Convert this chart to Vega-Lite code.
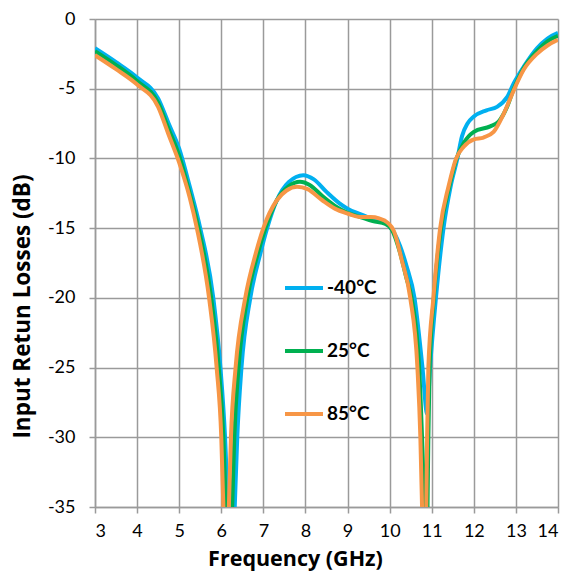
{
  "$schema": "https://vega.github.io/schema/vega-lite/v6.json",
  "width": 463,
  "height": 488,
  "autosize": {"type": "none"},
  "padding": {"left": 95, "top": 19, "right": 10, "bottom": 64},
  "background": "white",
  "config": {
    "view": {"stroke": null},
    "font": "Lato",
    "axis": {
      "gridColor": "#9a9a9a",
      "gridWidth": 1.5,
      "domainColor": "#9a9a9a",
      "domainWidth": 1.5,
      "tickColor": "#9a9a9a",
      "tickWidth": 1.5,
      "tickSize": 6,
      "labelFont": "Lato",
      "labelFontSize": 18,
      "labelColor": "#000000",
      "titleFont": "Open Sans",
      "titleFontWeight": "bold",
      "titleColor": "#000000"
    }
  },
  "data": {
    "values": [
      {"f": 3.0, "db": -2.1, "t": "-40°C"},
      {"f": 3.5, "db": -3.1, "t": "-40°C"},
      {"f": 4.0, "db": -4.2, "t": "-40°C"},
      {"f": 4.5, "db": -5.7, "t": "-40°C"},
      {"f": 4.75, "db": -7.5, "t": "-40°C"},
      {"f": 5.0, "db": -9.3, "t": "-40°C"},
      {"f": 5.25, "db": -12.0, "t": "-40°C"},
      {"f": 5.5, "db": -15.0, "t": "-40°C"},
      {"f": 5.81, "db": -20.0, "t": "-40°C"},
      {"f": 5.98, "db": -25.0, "t": "-40°C"},
      {"f": 6.09, "db": -30.0, "t": "-40°C"},
      {"f": 6.16, "db": -35.0, "t": "-40°C"},
      {"f": 6.24, "db": -42.0, "t": "-40°C"},
      {"f": 6.32, "db": -35.0, "t": "-40°C"},
      {"f": 6.38, "db": -30.0, "t": "-40°C"},
      {"f": 6.48, "db": -25.0, "t": "-40°C"},
      {"f": 6.69, "db": -20.0, "t": "-40°C"},
      {"f": 6.93, "db": -16.8, "t": "-40°C"},
      {"f": 7.09, "db": -15.0, "t": "-40°C"},
      {"f": 7.32, "db": -13.0, "t": "-40°C"},
      {"f": 7.6, "db": -11.7, "t": "-40°C"},
      {"f": 7.95, "db": -11.2, "t": "-40°C"},
      {"f": 8.2, "db": -11.5, "t": "-40°C"},
      {"f": 8.5, "db": -12.4, "t": "-40°C"},
      {"f": 8.8, "db": -13.2, "t": "-40°C"},
      {"f": 9.0, "db": -13.6, "t": "-40°C"},
      {"f": 9.3, "db": -14.0, "t": "-40°C"},
      {"f": 9.6, "db": -14.35, "t": "-40°C"},
      {"f": 9.9, "db": -14.6, "t": "-40°C"},
      {"f": 10.1, "db": -15.3, "t": "-40°C"},
      {"f": 10.25, "db": -16.3, "t": "-40°C"},
      {"f": 10.4, "db": -17.7, "t": "-40°C"},
      {"f": 10.59, "db": -20.0, "t": "-40°C"},
      {"f": 10.78, "db": -25.0, "t": "-40°C"},
      {"f": 10.89, "db": -28.3, "t": "-40°C"},
      {"f": 10.96, "db": -25.0, "t": "-40°C"},
      {"f": 11.1, "db": -20.0, "t": "-40°C"},
      {"f": 11.28, "db": -15.0, "t": "-40°C"},
      {"f": 11.45, "db": -12.0, "t": "-40°C"},
      {"f": 11.61, "db": -10.0, "t": "-40°C"},
      {"f": 11.72, "db": -8.4, "t": "-40°C"},
      {"f": 11.85, "db": -7.5, "t": "-40°C"},
      {"f": 12.0, "db": -7.0, "t": "-40°C"},
      {"f": 12.3, "db": -6.55, "t": "-40°C"},
      {"f": 12.55, "db": -6.3, "t": "-40°C"},
      {"f": 12.79, "db": -5.6, "t": "-40°C"},
      {"f": 12.95, "db": -4.6, "t": "-40°C"},
      {"f": 13.19, "db": -3.4, "t": "-40°C"},
      {"f": 13.5, "db": -2.1, "t": "-40°C"},
      {"f": 13.75, "db": -1.4, "t": "-40°C"},
      {"f": 14.0, "db": -1.0, "t": "-40°C"},

      {"f": 3.0, "db": -2.3, "t": "25°C"},
      {"f": 3.5, "db": -3.3, "t": "25°C"},
      {"f": 4.0, "db": -4.45, "t": "25°C"},
      {"f": 4.5, "db": -6.0, "t": "25°C"},
      {"f": 4.75, "db": -7.9, "t": "25°C"},
      {"f": 5.0, "db": -9.8, "t": "25°C"},
      {"f": 5.25, "db": -12.5, "t": "25°C"},
      {"f": 5.46, "db": -15.0, "t": "25°C"},
      {"f": 5.76, "db": -20.0, "t": "25°C"},
      {"f": 5.94, "db": -25.0, "t": "25°C"},
      {"f": 6.05, "db": -30.0, "t": "25°C"},
      {"f": 6.11, "db": -35.0, "t": "25°C"},
      {"f": 6.18, "db": -42.0, "t": "25°C"},
      {"f": 6.26, "db": -35.0, "t": "25°C"},
      {"f": 6.31, "db": -30.0, "t": "25°C"},
      {"f": 6.41, "db": -25.0, "t": "25°C"},
      {"f": 6.62, "db": -20.0, "t": "25°C"},
      {"f": 6.87, "db": -16.8, "t": "25°C"},
      {"f": 7.05, "db": -15.0, "t": "25°C"},
      {"f": 7.32, "db": -13.0, "t": "25°C"},
      {"f": 7.6, "db": -12.0, "t": "25°C"},
      {"f": 7.87, "db": -11.67, "t": "25°C"},
      {"f": 8.1, "db": -11.9, "t": "25°C"},
      {"f": 8.4, "db": -12.7, "t": "25°C"},
      {"f": 8.7, "db": -13.4, "t": "25°C"},
      {"f": 9.0, "db": -13.9, "t": "25°C"},
      {"f": 9.3, "db": -14.2, "t": "25°C"},
      {"f": 9.6, "db": -14.5, "t": "25°C"},
      {"f": 9.9, "db": -14.7, "t": "25°C"},
      {"f": 10.05, "db": -15.1, "t": "25°C"},
      {"f": 10.25, "db": -16.8, "t": "25°C"},
      {"f": 10.4, "db": -18.6, "t": "25°C"},
      {"f": 10.52, "db": -20.0, "t": "25°C"},
      {"f": 10.7, "db": -25.0, "t": "25°C"},
      {"f": 10.77, "db": -30.0, "t": "25°C"},
      {"f": 10.82, "db": -35.0, "t": "25°C"},
      {"f": 10.86, "db": -42.0, "t": "25°C"},
      {"f": 10.9, "db": -35.0, "t": "25°C"},
      {"f": 10.92, "db": -30.0, "t": "25°C"},
      {"f": 10.95, "db": -25.0, "t": "25°C"},
      {"f": 11.05, "db": -20.0, "t": "25°C"},
      {"f": 11.22, "db": -15.0, "t": "25°C"},
      {"f": 11.42, "db": -12.0, "t": "25°C"},
      {"f": 11.59, "db": -10.0, "t": "25°C"},
      {"f": 11.76, "db": -8.9, "t": "25°C"},
      {"f": 12.0, "db": -8.1, "t": "25°C"},
      {"f": 12.39, "db": -7.7, "t": "25°C"},
      {"f": 12.59, "db": -7.35, "t": "25°C"},
      {"f": 12.79, "db": -6.3, "t": "25°C"},
      {"f": 12.95, "db": -5.0, "t": "25°C"},
      {"f": 13.18, "db": -3.55, "t": "25°C"},
      {"f": 13.5, "db": -2.3, "t": "25°C"},
      {"f": 13.75, "db": -1.6, "t": "25°C"},
      {"f": 14.0, "db": -1.2, "t": "25°C"},

      {"f": 3.0, "db": -2.6, "t": "85°C"},
      {"f": 3.5, "db": -3.6, "t": "85°C"},
      {"f": 4.0, "db": -4.7, "t": "85°C"},
      {"f": 4.5, "db": -6.3, "t": "85°C"},
      {"f": 4.75, "db": -8.3, "t": "85°C"},
      {"f": 5.0, "db": -10.3, "t": "85°C"},
      {"f": 5.25, "db": -12.8, "t": "85°C"},
      {"f": 5.42, "db": -15.0, "t": "85°C"},
      {"f": 5.71, "db": -20.0, "t": "85°C"},
      {"f": 5.89, "db": -25.0, "t": "85°C"},
      {"f": 6.0, "db": -30.0, "t": "85°C"},
      {"f": 6.05, "db": -35.0, "t": "85°C"},
      {"f": 6.11, "db": -42.0, "t": "85°C"},
      {"f": 6.18, "db": -35.0, "t": "85°C"},
      {"f": 6.23, "db": -30.0, "t": "85°C"},
      {"f": 6.34, "db": -25.0, "t": "85°C"},
      {"f": 6.57, "db": -20.0, "t": "85°C"},
      {"f": 6.82, "db": -16.8, "t": "85°C"},
      {"f": 7.0, "db": -15.0, "t": "85°C"},
      {"f": 7.32, "db": -13.0, "t": "85°C"},
      {"f": 7.55, "db": -12.3, "t": "85°C"},
      {"f": 7.8, "db": -12.03, "t": "85°C"},
      {"f": 8.05, "db": -12.2, "t": "85°C"},
      {"f": 8.4, "db": -13.0, "t": "85°C"},
      {"f": 8.7, "db": -13.6, "t": "85°C"},
      {"f": 9.0, "db": -13.95, "t": "85°C"},
      {"f": 9.3, "db": -14.2, "t": "85°C"},
      {"f": 9.55, "db": -14.2, "t": "85°C"},
      {"f": 9.75, "db": -14.3, "t": "85°C"},
      {"f": 9.95, "db": -14.6, "t": "85°C"},
      {"f": 10.1, "db": -15.2, "t": "85°C"},
      {"f": 10.29, "db": -17.3, "t": "85°C"},
      {"f": 10.49, "db": -20.0, "t": "85°C"},
      {"f": 10.66, "db": -25.0, "t": "85°C"},
      {"f": 10.73, "db": -30.0, "t": "85°C"},
      {"f": 10.77, "db": -35.0, "t": "85°C"},
      {"f": 10.82, "db": -42.0, "t": "85°C"},
      {"f": 10.87, "db": -35.0, "t": "85°C"},
      {"f": 10.89, "db": -30.0, "t": "85°C"},
      {"f": 10.92, "db": -25.0, "t": "85°C"},
      {"f": 11.04, "db": -20.0, "t": "85°C"},
      {"f": 11.2, "db": -15.0, "t": "85°C"},
      {"f": 11.4, "db": -12.0, "t": "85°C"},
      {"f": 11.58, "db": -10.0, "t": "85°C"},
      {"f": 11.76, "db": -9.16, "t": "85°C"},
      {"f": 12.0, "db": -8.63, "t": "85°C"},
      {"f": 12.23, "db": -8.5, "t": "85°C"},
      {"f": 12.47, "db": -8.1, "t": "85°C"},
      {"f": 12.71, "db": -6.8, "t": "85°C"},
      {"f": 12.95, "db": -5.1, "t": "85°C"},
      {"f": 13.18, "db": -3.66, "t": "85°C"},
      {"f": 13.5, "db": -2.5, "t": "85°C"},
      {"f": 13.75, "db": -1.9, "t": "85°C"},
      {"f": 14.0, "db": -1.5, "t": "85°C"}
    ]
  },
  "mark": {"type": "line", "interpolate": "monotone", "strokeWidth": 4, "clip": true},
  "encoding": {
    "x": {
      "field": "f",
      "type": "quantitative",
      "scale": {"domain": [3, 14], "nice": false, "zero": false},
      "axis": {"title": "Frequency (GHz)", "values": [3,4,5,6,7,8,9,10,11,12,13,14], "labelPadding": 9, "titleFontSize": 21.5, "titleX": 200, "titleY": 58, "titleAlign": "center", "titleBaseline": "alphabetic"}
    },
    "y": {
      "field": "db",
      "type": "quantitative",
      "scale": {"domain": [-35, 0], "nice": false, "zero": false},
      "axis": {"title": "Input Retun Losses (dB)", "values": [0,-5,-10,-15,-20,-25,-30,-35], "labelExpr": "'' + datum.value", "labelPadding": 14, "titleFontSize": 22.5, "titleX": -73, "titleY": 287, "titleAlign": "center", "titleBaseline": "middle", "titleAngle": -90}
    },
    "color": {
      "field": "t",
      "type": "nominal",
      "scale": {"domain": ["-40°C", "25°C", "85°C"], "range": ["#00B0F0", "#00B050", "#F79646"]},
      "legend": {
        "title": null,
        "orient": "none",
        "legendX": 188,
        "legendY": 248,
        "symbolType": "stroke",
        "symbolSize": 1444,
        "symbolStrokeWidth": 4,
        "labelFont": "Lato",
        "labelFontSize": 19,
        "labelFontWeight": "bold",
        "labelColor": "#000000",
        "rowPadding": 32,
        "labelOffset": 2
      }
    }
  }
}
